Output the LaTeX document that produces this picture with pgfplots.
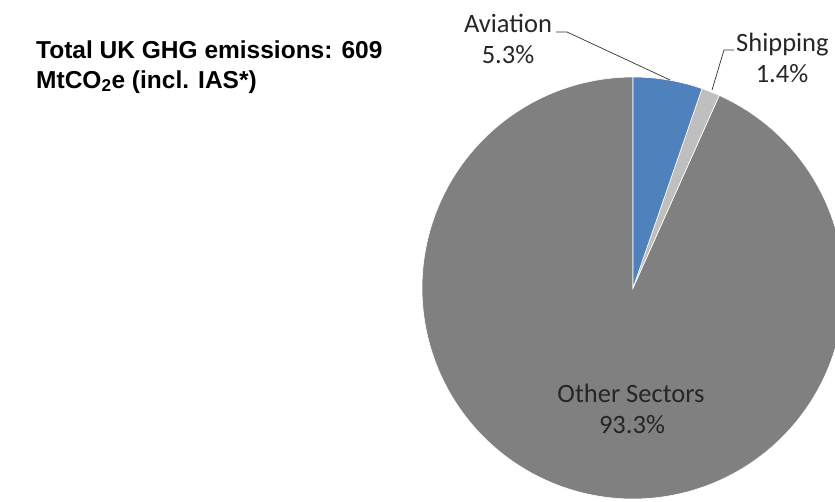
\documentclass[border=0pt]{standalone}
\usepackage{fontspec}
\setmainfont{Carlito}
\newfontfamily\arialfont{Liberation Sans}
\usepackage{pgfplots}
\usepackage{pgfplotstable}
\pgfplotsset{compat=1.18}

\definecolor{avi}{HTML}{4F81BD}
\definecolor{ship}{HTML}{BFBFBF}
\definecolor{other}{HTML}{808080}
\definecolor{lbl}{HTML}{262626}

% share of UK GHG emissions, percent
\pgfplotstableread{
sector share
Aviation 5.3
Shipping 1.4
Other 93.3
}\sharetable

\begin{document}
\begin{tikzpicture}
\pgfplotstablegetelem{0}{share}\of\sharetable \let\sA\pgfplotsretval
\pgfplotstablegetelem{1}{share}\of\sharetable \let\sB\pgfplotsretval
\pgfplotstablegetelem{2}{share}\of\sharetable \let\sC\pgfplotsretval
% pie starts at 12 o'clock and runs clockwise
\pgfmathsetmacro\aO{90}
\pgfmathsetmacro\aA{\aO-3.6*\sA}
\pgfmathsetmacro\aB{\aA-3.6*\sB}
\pgfmathsetmacro\aC{\aB-3.6*\sC}
\def\cx{633}\def\cy{288}\def\rr{211}
\begin{axis}[
    scale only axis,
    width=835pt, height=501pt,
    xmin=0, xmax=835, ymin=0, ymax=501,
    y dir=reverse,
    hide axis,
    clip=true,
]
\addplot[fill=other, draw=white, line width=0.6pt, domain=\aC:\aB, samples=200]
    ({\cx+\rr*cos(x)}, {\cy-\rr*sin(x)}) -- (axis cs:\cx,\cy) -- cycle;
\addplot[fill=ship, draw=white, line width=0.6pt, domain=\aB:\aA, samples=10]
    ({\cx+\rr*cos(x)}, {\cy-\rr*sin(x)}) -- (axis cs:\cx,\cy) -- cycle;
\addplot[fill=avi, draw=white, line width=0.6pt, domain=\aA:\aO, samples=30]
    ({\cx+\rr*cos(x)}, {\cy-\rr*sin(x)}) -- (axis cs:\cx,\cy) -- cycle;

% leader lines
\draw[black!80, line width=0.7pt] (axis cs:556,32) -- (axis cs:567,32) -- (axis cs:670,80);
\draw[black!80, line width=0.7pt] (axis cs:734,50) -- (axis cs:724,50) -- (axis cs:712,90);

\tikzset{lab/.style={font=\fontsize{26.5}{30}\selectfont, text=lbl, inner sep=0pt}}
\node[lab, anchor=base] at (axis cs:508,32) {Aviation};
\node[lab, anchor=base] at (axis cs:508,63) {\sA\%};
\node[lab, anchor=base west] at (axis cs:736,51) {Shipping};
\node[lab, anchor=base] at (axis cs:782,82) {\sB\%};
\node[lab, anchor=base] at (axis cs:631,402) {Other Sectors};
\node[lab, anchor=base] at (axis cs:632,433) {\sC\%};

\tikzset{ttl/.style={font=\arialfont\bfseries\fontsize{24.5}{28}\selectfont, anchor=base west, inner sep=0pt}}
\node[ttl] at (axis cs:36,58) {Total UK GHG emissions: 609};
\node[ttl] at (axis cs:36,88) {MtCO\textsubscript{2}e (incl. IAS*)};
\end{axis}
\path (current axis.south west) rectangle (current axis.north east);
\end{tikzpicture}
\end{document}
